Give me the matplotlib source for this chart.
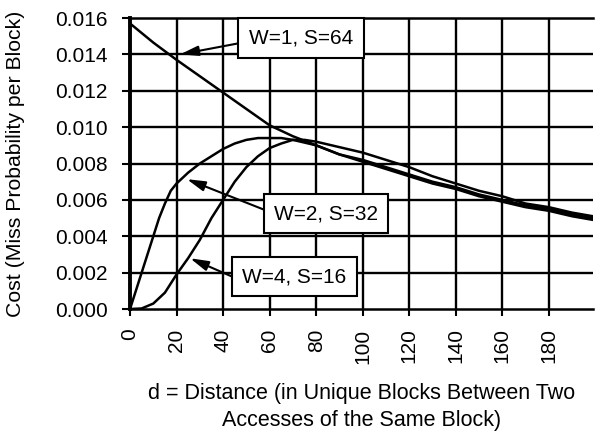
import matplotlib.pyplot as plt

plt.rcParams['font.family'] = ['Liberation Sans', 'DejaVu Sans']

# W=1, S=64
d1 = [0, 10, 20, 30, 40, 50, 60, 70, 80, 90, 100, 110, 120, 130, 140, 150, 160, 170, 180, 190, 199]
w1 = [0.0157, 0.01465, 0.0137, 0.0128, 0.0119, 0.0110, 0.0101, 0.0095, 0.0090, 0.0085, 0.0081,
      0.0077, 0.0073, 0.0069, 0.0066, 0.0062, 0.0059, 0.0056, 0.0054, 0.0051, 0.0049]

# W=2, S=32
d2 = [0, 2.5, 5, 7.5, 10, 12.5, 15, 17.5, 20, 22.5, 25, 30, 35, 40, 45, 50, 55, 60, 65, 70,
      80, 90, 100, 110, 120, 130, 140, 150, 160, 170, 180, 190, 199]
w2 = [0, 0.0010, 0.0020, 0.0030, 0.0040, 0.0050, 0.0058, 0.0065, 0.0069, 0.0072, 0.0075,
      0.0080, 0.0084, 0.0088, 0.0091, 0.0093, 0.0094, 0.0094, 0.0094, 0.0093,
      0.0090, 0.0085, 0.0082, 0.0078, 0.0074, 0.0070, 0.0067, 0.0063, 0.0060, 0.0057, 0.0055, 0.0052, 0.0050]

# W=4, S=16
d4 = [0, 5, 10, 15, 20, 25, 30, 35, 40, 45, 50, 55, 60, 65, 70, 75, 80, 90,
      100, 110, 120, 130, 140, 150, 160, 170, 180, 190, 199]
w4 = [0, 0.00003, 0.0003, 0.0009, 0.0019, 0.0028, 0.0038, 0.0050, 0.0060, 0.0070, 0.0078,
      0.0084, 0.00885, 0.0091, 0.0093, 0.0093, 0.0092, 0.0089,
      0.0086, 0.0082, 0.0078, 0.0073, 0.0069, 0.0065, 0.0062, 0.0058, 0.0056, 0.0053, 0.0051]

labels = ['W=1, S=64', 'W=2, S=32', 'W=4, S=16']
arrow_tips = [(21.5, 0.0140), (24.4, 0.00714), (25.8, 0.00279)]

x_ticks = list(range(0, 200, 20))
y_ticks = [0.000, 0.002, 0.004, 0.006, 0.008, 0.010, 0.012, 0.014, 0.016]

fig = plt.figure(figsize=(5.97, 4.32), dpi=100)
ax = fig.add_axes([0.2178, 0.2847, 0.7755, 0.6736])

for d, w in [(d1, w1), (d2, w2), (d4, w4)]:
    ax.plot(d, w, color='black', lw=1.8, zorder=3)

ax.set_xlim(0, 199)
ax.set_ylim(0, 0.016)
ax.set_xticks(x_ticks)
ax.set_yticks(y_ticks)
ax.set_yticklabels([f'{v:.3f}' for v in y_ticks])
ax.tick_params(axis='x', labelrotation=90, length=5, width=1.5, pad=9, labelsize=15)
ax.tick_params(axis='y', length=6, width=1.5, pad=10, labelsize=15)

# grid lines
for xv in x_ticks[1:]:
    ax.axvline(xv, color='black', linewidth=1.7, zorder=1)
for yv in y_ticks[1:-1]:
    ax.axhline(yv, color='black', linewidth=1.7, zorder=1)

ax.spines['right'].set_visible(False)
ax.spines['left'].set_linewidth(2.8)
ax.spines['top'].set_linewidth(1.8)
ax.spines['bottom'].set_linewidth(1.8)

ax.set_ylabel('Cost (Miss Probability per Block)', fontsize=15.3)
ax.yaxis.set_label_coords(-0.227, 0.5)
ax.set_xlabel('d = Distance (in Unique Blocks Between Two\nAccesses of the Same Block)',
              fontsize=15.5, linespacing=1.4)
ax.xaxis.set_label_coords(0.501, -0.254)

# label box centres and arrow tails (axes fraction)
centres = [(0.3693, 0.9313), (0.4234, 0.3282), (0.3543, 0.1117)]
tails = [(0.2376, 0.914), (0.2916, 0.340), (0.2225, 0.110)]

for lab, tip, tail, (cx, cy) in zip(labels, arrow_tips, tails, centres):
    ax.annotate('', xy=tip, xycoords='data', xytext=tail, textcoords='axes fraction',
                arrowprops=dict(arrowstyle='-|>,head_length=1.1,head_width=0.3',
                                color='black', lw=1.5, shrinkA=0, shrinkB=0),
                zorder=4)
    ax.text(cx, cy, lab, transform=ax.transAxes, ha='center', va='center',
            fontsize=15, zorder=6, clip_on=False,
            bbox=dict(boxstyle='square,pad=0.5', fc='white', ec='black', lw=1.5))

fig.savefig('out.png', dpi=100)
